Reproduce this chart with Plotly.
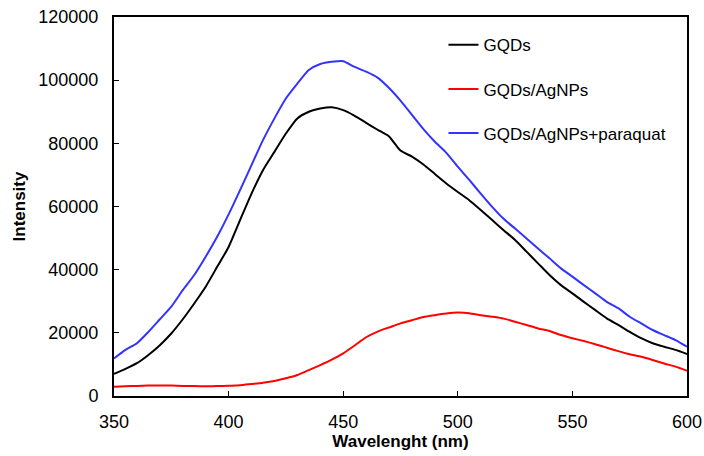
import plotly.graph_objects as go

wavelength = [350, 355, 360, 365, 370, 375, 380, 385, 390, 395, 400, 405, 410, 415, 420, 425,
              430, 435, 440, 445, 450, 455, 460, 465, 470, 475, 480, 485, 490, 495, 500, 505,
              510, 515, 520, 525, 530, 535, 540, 545, 550, 555, 560, 565, 570, 575, 580, 585,
              590, 595, 600]

gqds = [7000, 8600, 10400, 13000, 16100, 19800, 24300, 29300, 34600, 40900, 47200, 55700,
        64100, 71500, 77300, 83100, 87900, 90000, 91000, 91400, 90500, 88700, 86500, 84300,
        82200, 77700, 75800, 73300, 70300, 67300, 64600, 62000, 58900, 55700, 52500, 49400,
        45700, 42000, 38300, 35100, 32500, 29800, 27200, 24600, 22500, 20300, 18300, 16700,
        15600, 14600, 13300]

gqds_agnps = [2950, 3100, 3200, 3300, 3350, 3300, 3200, 3150, 3100, 3150, 3260, 3400,
              3800, 4200, 4750, 5600, 6650, 8200, 9800, 11500, 13500, 16000, 18600, 20400,
              21700, 23000, 24000, 25000, 25600, 26100, 26400, 26200, 25600, 25100, 24500, 23500,
              22500, 21400, 20600, 19300, 18300, 17400, 16400, 15300, 14200, 13200, 12400, 11400,
              10300, 9300, 8000]

gqds_agnps_paraquat = [11900, 14600, 16700, 20300, 24300, 28300, 33500, 38300, 44100, 50400,
                       57500, 65200, 73100, 81000, 87900, 94200, 98900, 103200, 105100, 105800,
                       106000, 104200, 102700, 100800, 97500, 93500, 89000, 84500, 80500, 77000,
                       72600, 68400, 64100, 59900, 56100, 53000, 49900, 46700, 43600, 40400,
                       37800, 35100, 32500, 29800, 27800, 25100, 23000, 20900, 19300, 17700, 15600]

series_names = ["GQDs", "GQDs/AgNPs", "GQDs/AgNPs+paraquat"]
series_colors = ["#000000", "#ff0000", "#3333ff"]
series_values = [gqds, gqds_agnps, gqds_agnps_paraquat]

x_ticks = [350, 400, 450, 500, 550, 600]
y_ticks = [0, 20000, 40000, 60000, 80000, 100000, 120000]

fig = go.Figure()
for name, color, vals in zip(series_names, series_colors, series_values):
    fig.add_trace(go.Scatter(x=wavelength, y=vals, mode="lines", name=name,
                             legendgroup=name,
                             line=dict(color=color, width=2, shape="spline", smoothing=0.6)))

font_family = "Liberation Sans, Arial, sans-serif"
fig.update_layout(
    width=704, height=456,
    margin=dict(l=114, r=17, t=17, b=60),
    paper_bgcolor="white", plot_bgcolor="white",
    font=dict(family=font_family, color="black"),
    showlegend=True,
    legend=dict(x=0.575, y=0.973, xanchor="left", yanchor="top",
                font=dict(size=17, family=font_family), bgcolor="rgba(0,0,0,0)",
                tracegroupgap=19, itemwidth=30),
    xaxis=dict(range=[350, 600], tickvals=x_ticks, ticks="inside", ticklen=5, tickwidth=1,
               tickcolor="black", showline=True, linecolor="black", linewidth=2, mirror=True,
               showgrid=False, zeroline=False, tickfont=dict(size=18), automargin=False,
               ticklabelstandoff=8,
               title=dict(text="<b>Wavelenght (nm)</b>", font=dict(size=17), standoff=4)),
    yaxis=dict(range=[0, 120000], tickvals=y_ticks, tickformat="d", ticks="inside", ticklen=5,
               tickwidth=1, tickcolor="black", showline=True, linecolor="black", linewidth=2,
               mirror=True, showgrid=False, zeroline=False, tickfont=dict(size=18), automargin=False,
               ticklabelstandoff=10,
               title=dict(text="<b>Intensity</b>", font=dict(size=17), standoff=8)),
)

fig.write_html("out.html",
               config={"displayModeBar": False},
               post_script="document.body.style.margin='0';"
                           "document.documentElement.style.overflow='hidden';")
